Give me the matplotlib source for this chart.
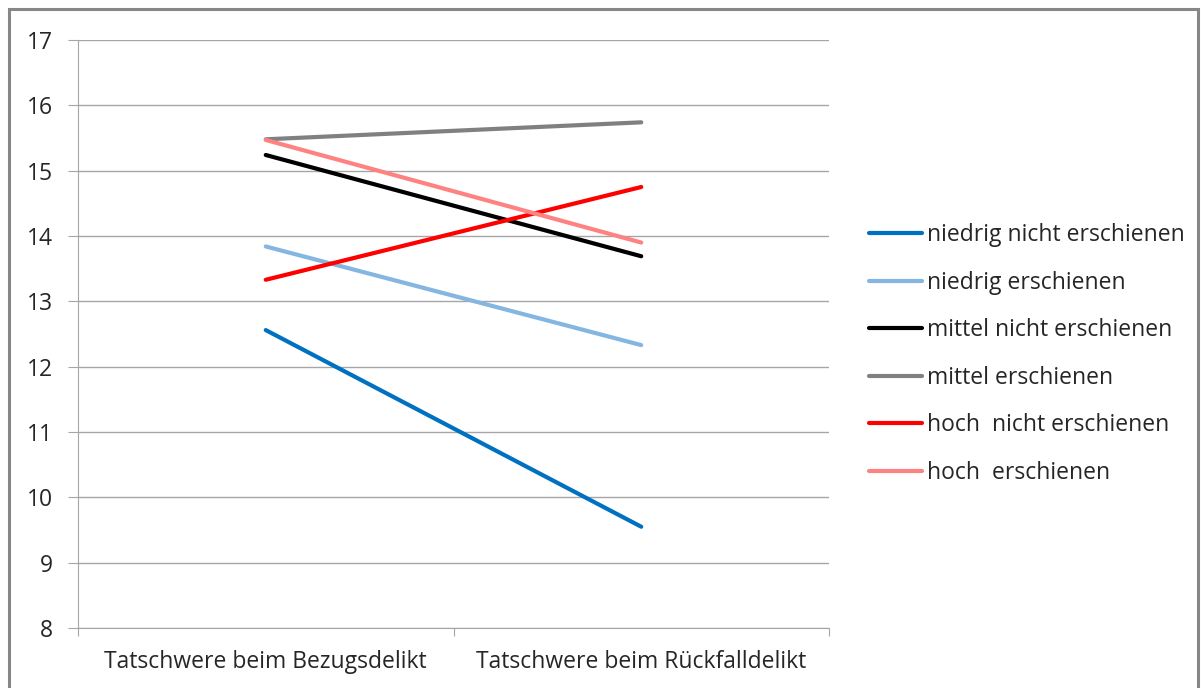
import matplotlib
matplotlib.use('Agg')
import matplotlib.pyplot as plt
from matplotlib.patches import Rectangle

# data
categories = ['Tatschwere beim Bezugsdelikt', 'Tatschwere beim Rückfalldelikt']
series_names = ['niedrig nicht erschienen', 'niedrig erschienen', 'mittel nicht erschienen',
                'mittel erschienen', 'hoch  nicht erschienen', 'hoch  erschienen']
niedrig_nicht = [12.56, 9.55]
niedrig_ersch = [13.84, 12.33]
mittel_nicht = [15.24, 13.69]
mittel_ersch = [15.48, 15.74]
hoch_nicht = [13.33, 14.75]
hoch_ersch = [15.47, 13.90]
colors = ['#0070C0', '#85B6E2', '#000000', '#808080', '#FF0000', '#FF8282']

plt.rcParams['font.family'] = ['Open Sans', 'DejaVu Sans']

W, H = 1201, 688
fs = 16.5
fig = plt.figure(figsize=(W / 100, H / 100), dpi=100)
ax = fig.add_axes([78 / W, 1 - 628 / H, (829 - 78) / W, (628 - 40) / H])

# outer chart frame
fig.patches.append(Rectangle((9 / W, -0.1), (1198 - 9) / W, 1.1 - 9 / H,
                             transform=fig.transFigure, fill=False,
                             edgecolor='#878787', lw=2.2))

xs = [0.5, 1.5]
all_series = [niedrig_nicht, niedrig_ersch, mittel_nicht, mittel_ersch, hoch_nicht, hoch_ersch]
for vals, name, c in zip(all_series, series_names, colors):
    ax.plot(xs, vals, color=c, lw=3, solid_capstyle='round', label=name)

ax.set_xlim(0, 2)
ax.set_ylim(8, 17)
ax.set_yticks(range(8, 18))
ax.yaxis.grid(True, color='#a6a6a6', lw=1)
ax.set_axisbelow(True)

ax.set_xticks([0, 1, 2])
ax.set_xticklabels([])
ax.set_xticks(xs, minor=True)
ax.set_xticklabels(categories, minor=True)
ax.tick_params(axis='x', which='major', length=6, color='#a6a6a6', direction='out')
ax.tick_params(axis='x', which='minor', length=0, pad=16, labelsize=fs, labelcolor='#262626')
ax.tick_params(axis='y', length=7, color='#a6a6a6', labelsize=fs, labelcolor='#262626', pad=11)

for s in ['top', 'right']:
    ax.spines[s].set_visible(False)
for s in ['left', 'bottom']:
    ax.spines[s].set_color('#a6a6a6')

leg = ax.legend(loc='upper left', bbox_to_anchor=((869 - 78) / 751, 1 - (223 - 40) / 588),
                frameon=False, fontsize=fs, handlelength=2.3, handletextpad=0.25,
                labelspacing=1.03, borderaxespad=0, borderpad=0)
for t in leg.get_texts():
    t.set_color('#262626')

fig.savefig('out.png', dpi=100)
